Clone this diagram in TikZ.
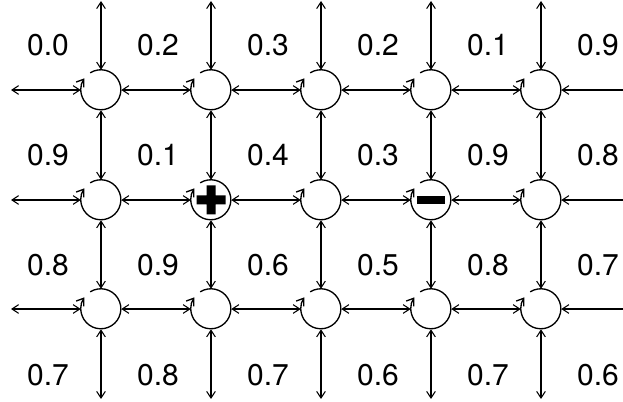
\documentclass[tikz,border=0pt]{standalone}
\usepackage{fontspec}
\setmainfont{TeX Gyre Heros}
\usetikzlibrary{arrows.meta}
\begin{document}
\begin{tikzpicture}[x=0.75pt,y=0.75pt,
  tip/.tip={Straight Barb[length=5pt,width=6.5pt]},
  flow/.style={line width=0.8pt,tip-tip},
  site/.style={circle,minimum size=30pt,inner sep=0pt},
  swirl/.style={line width=1pt,-{Straight Barb[length=5pt,width=7pt]}},
  value/.style={font=\fontsize{22.5}{26}\selectfont,inner sep=0pt}]
\useasboundingbox (0,0) rectangle (623,402);
\clip (0,0) rectangle (623,402);

% lattice sites: columns 1..5, rows 1..3 from the top
\foreach \i in {1,...,5}{
  \foreach \j/\y in {1/312,2/202,3/93}{
    \node[site] (s\i\j) at ({101+110*(\i-1)},\y) {};
    \draw[swirl] (s\i\j.122) arc[start angle=122,end angle=-215,radius=20];
  }
}

% free ends of the boundary connectors
\foreach \i in {1,...,5}{
  \coordinate (t\i) at ({101+110*(\i-1)},401);
  \coordinate (b\i) at ({101+110*(\i-1)},3);
}
\foreach \j/\y in {1/312,2/202,3/93}{
  \coordinate (l\j) at (11,\y);
  \coordinate (r\j) at (631,\y);
}

% horizontal bonds
\foreach \j in {1,2,3}{
  \draw[flow] (l\j) -- (s1\j);
  \foreach \i/\k in {1/2,2/3,3/4,4/5}{
    \draw[flow] (s\i\j) -- (s\k\j);
  }
  \draw[flow] (s5\j) -- (r\j);
}

% vertical bonds
\foreach \i in {1,...,5}{
  \draw[flow] (t\i) -- (s\i1);
  \draw[flow] (s\i1) -- (s\i2);
  \draw[flow] (s\i2) -- (s\i3);
  \draw[flow] (s\i3) -- (b\i);
}

% charges
\fill[shift={(s22.center)}] (-14.5,-4.5) rectangle (14.5,4.5)
                            (-4.5,-14.5) rectangle (4.5,14.5);
\fill[shift={(s42.center)}] (-14,-4) rectangle (14,4);

% plaquette values
\foreach \r/\y/\vals in {0/357/{0.0,0.2,0.3,0.2,0.1,0.9},
                         1/247/{0.9,0.1,0.4,0.3,0.9,0.8},
                         2/137/{0.8,0.9,0.6,0.5,0.8,0.7},
                         3/27/{0.7,0.8,0.7,0.6,0.7,0.6}}{
  \foreach \v [count=\c from 0] in \vals{
    \node[value] (v\r\c) at ({48+110*\c},\y) {\v};
  }
}
\end{tikzpicture}
\end{document}
